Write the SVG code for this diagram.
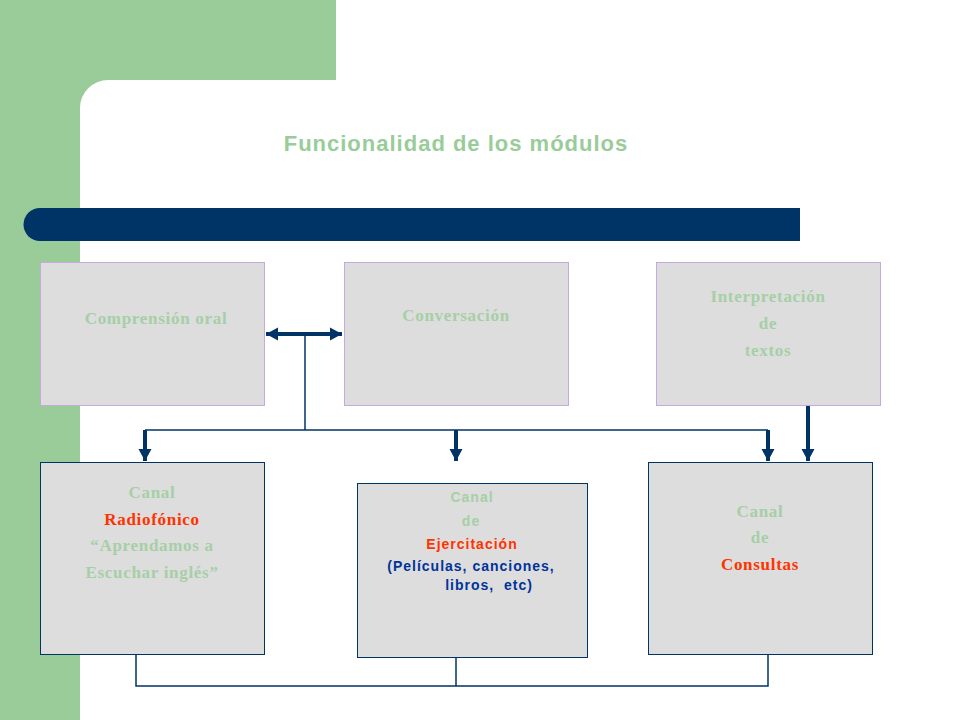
<svg xmlns="http://www.w3.org/2000/svg" width="960" height="720" viewBox="0 0 960 720">
<defs>
<style>
.bg{fill:#99CC99}
.top{fill:#DDDDDD;stroke:#C8A8E0;stroke-width:1}
.bot{fill:#DDDDDD;stroke:#003366;stroke-width:1}
.s{font-family:"Liberation Serif","Times New Roman",serif;font-weight:bold;font-size:17px;text-anchor:middle;fill:#A6CFA6;letter-spacing:0.7px}
.a{font-family:"Liberation Sans",Arial,sans-serif;font-weight:bold;font-size:14px;text-anchor:middle;fill:#A6CFA6;letter-spacing:1px}
.red{fill:#FF3300}
.navy{fill:#003399}
.thin{fill:none;stroke:#003366;stroke-width:1.5}
.thick{fill:none;stroke:#003366;stroke-width:4}
</style>
<marker id="ah" markerUnits="userSpaceOnUse" markerWidth="14" markerHeight="14" refX="12" refY="7" orient="auto-start-reverse">
<path d="M0,0.5 L12,7 L0,13.5 Z" fill="#003366"/>
</marker>
</defs>
<rect width="960" height="720" fill="#FFFFFF"/>
<path class="bg" d="M0,0 H336 V80 H108 A28,28 0 0 0 80,108 V720 H0 Z"/>
<path d="M40,208 H800 V241 H40 A16.5,16.5 0 0 1 40,208 Z" fill="#003366"/>
<text x="456" y="151" font-family="'Liberation Sans',Arial,sans-serif" font-weight="bold" font-size="22" fill="#99CC99" text-anchor="middle" letter-spacing="1">Funcionalidad de los módulos</text>

<g id="connectors">
<line class="thick" x1="266" y1="334" x2="342" y2="334" marker-start="url(#ah)" marker-end="url(#ah)"/>
<polyline class="thin" points="305,334 305,430"/>
<polyline class="thin" points="145,430 768,430"/>
<line class="thick" x1="145" y1="430" x2="145" y2="461" marker-end="url(#ah)"/>
<line class="thick" x1="456" y1="430" x2="456" y2="461" marker-end="url(#ah)"/>
<line class="thick" x1="768" y1="430" x2="768" y2="461" marker-end="url(#ah)"/>
<line class="thick" x1="808" y1="405" x2="808" y2="461" marker-end="url(#ah)"/>
<polyline class="thin" points="136,654 136,686 768,686 768,654"/>
<line class="thin" x1="456" y1="657" x2="456" y2="686"/>
</g>

<g id="n1">
<rect class="top" x="40.5" y="262.5" width="224" height="143"/>
<text class="s" x="156" y="324">Comprensión oral</text>
</g>
<g id="n2">
<rect class="top" x="344.5" y="262.5" width="224" height="143"/>
<text class="s" x="456" y="321">Conversación</text>
</g>
<g id="n3">
<rect class="top" x="656.5" y="262.5" width="224" height="143"/>
<text class="s" x="768" y="302">Interpretación</text>
<text class="s" x="768" y="329">de</text>
<text class="s" x="768" y="356">textos</text>
</g>
<g id="n4">
<rect class="bot" x="40.5" y="462.5" width="224" height="192"/>
<text class="s" x="152" y="498">Canal</text>
<text class="s red" x="152" y="525">Radiofónico</text>
<text class="s" x="152" y="551">“Aprendamos a</text>
<text class="s" x="152" y="578">Escuchar inglés”</text>
</g>
<g id="n5">
<rect class="bot" x="357.5" y="483.5" width="230" height="174"/>
<text class="a" x="472" y="502">Canal</text>
<text class="a" x="471" y="526">de</text>
<text class="a red" x="472" y="549">Ejercitación</text>
<text class="a navy" x="471" y="571">(Películas, canciones,</text>
<text class="a navy" x="489" y="590" xml:space="preserve">libros,  etc)</text>
</g>
<g id="n6">
<rect class="bot" x="648.5" y="462.5" width="224" height="192"/>
<text class="s" x="760" y="517">Canal</text>
<text class="s" x="760" y="543">de</text>
<text class="s red" x="760" y="570">Consultas</text>
</g>
</svg>
